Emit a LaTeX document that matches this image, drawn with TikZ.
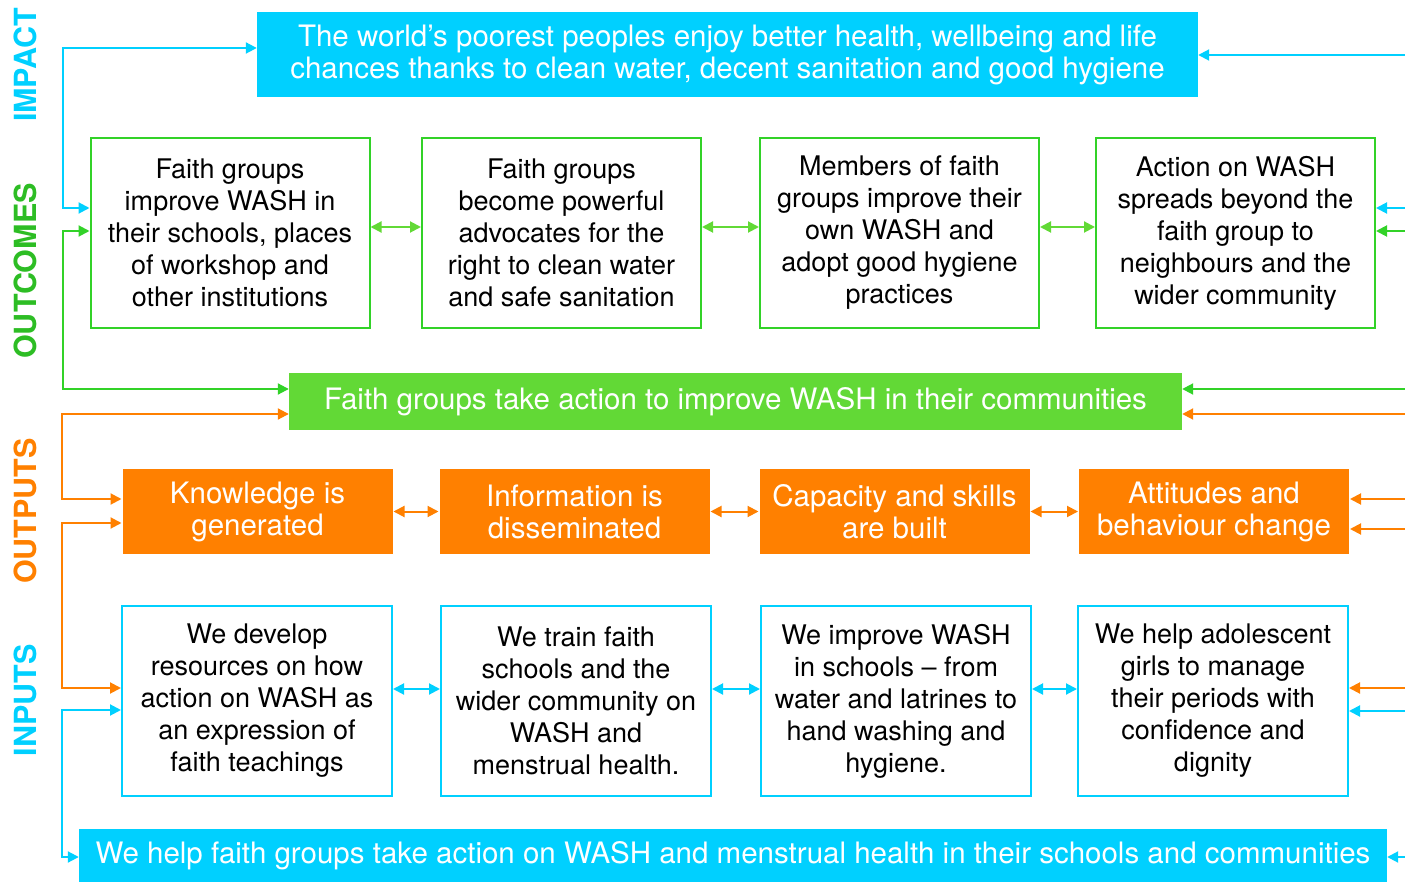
\documentclass[tikz,border=0pt]{standalone}
\usepackage{fontspec}
\setmainfont{TeX Gyre Heros}
\usetikzlibrary{arrows.meta,calc}
\definecolor{wcyan}{RGB}{0,208,255}
\definecolor{wgreen}{RGB}{50,210,40}
\definecolor{wlgreen}{RGB}{98,217,54}
\definecolor{worange}{RGB}{255,128,0}
\begin{document}
\begin{tikzpicture}[x=1pt,y=-1pt,
    >={Triangle[length=11pt,width=11pt]},
    box/.style = {draw, line width=2pt, align=center, inner sep=0pt,
                  font=\fontsize{27}{32}\selectfont},
    outc/.style = {box, draw=wgreen, minimum width=279, minimum height=190},
    inp/.style = {box, draw=wcyan, minimum width=270, minimum height=190},
    outp/.style = {box, draw=none, fill=worange, text=white, minimum width=270, minimum height=85,
                   font=\fontsize{29.5}{32}\selectfont},
    band/.style = {align=center, inner sep=0pt, text=white, font=\fontsize{29.5}{32}\selectfont},
    side/.style = {rotate=90, font=\fontsize{30.5}{30}\selectfont\bfseries},
    link/.style = {line width=2pt, <->}]
        \useasboundingbox (0,0) rectangle (1405,882);
        % levels
        \node[side, text=wcyan] (limp) at (25,65) {IMPACT};
        \node[side, text=wgreen!90!black] (lout) at (25,271) {OUTCOMES};
        \node[side, text=worange] (lput) at (25,511) {OUTPUTS};
        \node[side, text=wcyan] (linp) at (25,700) {INPUTS};
        % impact
        \node[band, fill=wcyan, minimum width=941, minimum height=85] (imp) at (727.5,54.5)
            {The world’s poorest peoples enjoy better health, wellbeing and life\\chances thanks to clean water, decent sanitation and good hygiene};
        % outcomes
        \node[outc] (o1) at (230,233) {Faith groups\\improve WASH in\\their schools, places\\of workshop and\\other institutions};
        \node[outc] (o2) at (561.5,233) {Faith groups\\become powerful\\advocates for the\\right to clean water\\and safe sanitation};
        \node[outc] (o3) at (899.5,233) {Members of faith\\groups improve their\\own WASH and\\adopt good hygiene\\practices};
        \node[outc] (o4) at (1235.5,233) {Action on WASH\\spreads beyond the\\faith group to\\neighbours and the\\wider community};
        \node[band, fill=wlgreen, minimum width=893, minimum height=57] (act) at (735.5,401.5)
            {Faith groups take action to improve WASH in their communities};
        % outputs
        \node[outp] (k1) at (257.5,511.5) {Knowledge is\\generated};
        \node[outp] (k2) at (574.5,511.5) {Information is\\disseminated};
        \node[outp] (k3) at (894.5,511.5) {Capacity and skills\\are built};
        \node[outp] (k4) at (1214,511.5) {Attitudes and\\behaviour change};
        % inputs
        \node[inp] (i1) at (257,701) {We develop\\resources on how\\action on WASH as\\an expression of\\faith teachings};
        \node[inp] (i2) at (576,701) {We train faith\\schools and the\\wider community on\\WASH and\\menstrual health.};
        \node[inp] (i3) at (896,701) {We improve WASH\\in schools – from\\water and latrines to\\hand washing and\\hygiene.};
        \node[inp] (i4) at (1213,701) {We help adolescent\\girls to manage\\their periods with\\confidence and\\dignity};
        \node[band, fill=wcyan, minimum width=1308, minimum height=53] (help) at (733,855.5)
            {We help faith groups take action on WASH and menstrual health in their schools and communities};
        % links in a row
        \draw[link, wlgreen] ($(o1.east)+(0,-6)$) -- ($(o2.west)+(0,-6)$);
        \draw[link, wlgreen] ($(o2.east)+(0,-6)$) -- ($(o3.west)+(0,-6)$);
        \draw[link, wlgreen] ($(o3.east)+(0,-6)$) -- ($(o4.west)+(0,-6)$);
        \draw[link, worange] (k1) -- (k2);
        \draw[link, worange] (k2) -- (k3);
        \draw[link, worange] (k3) -- (k4);
        \draw[link, wcyan] ($(i1.east)+(0,-12)$) -- ($(i2.west)+(0,-12)$);
        \draw[link, wcyan] ($(i2.east)+(0,-12)$) -- ($(i3.west)+(0,-12)$);
        \draw[link, wcyan] ($(i3.east)+(0,-12)$) -- ($(i4.west)+(0,-12)$);
        % left side
        \draw[link, wcyan] ($(o1.west)+(0,-25)$) -- ++(-27,0) |- ($(imp.west)+(0,-6.5)$);
        \draw[link, wgreen] ($(o1.west)+(0,-2)$) -- ++(-27,0) |- ($(act.west)+(0,-12.5)$);
        \draw[link, worange] ($(k1.west)+(0,-12.5)$) -- ++(-60,0) |- ($(act.west)+(0,12.5)$);
        \draw[link, worange] ($(k1.west)+(0,11.5)$) -- ++(-60,0) |- ($(i1.west)+(0,-13)$);
        \draw[link, wcyan] ($(i1.west)+(0,9)$) -- ++(-59,0) |- ($(help.west)+(0,1.5)$);
        % right side
        \draw[line width=2pt, wcyan, <-] ($(imp.east)+(0,0.5)$) -- ++(212,0);
        \draw[line width=2pt, wcyan, <-] ($(o4.east)+(0,-25)$) -- ++(35,0);
        \draw[line width=2pt, wgreen, <-] ($(o4.east)+(0,-2)$) -- ++(35,0);
        \draw[line width=2pt, wgreen, <-] ($(act.east)+(0,-12.5)$) -- ++(228,0);
        \draw[line width=2pt, worange, <-] ($(act.east)+(0,12.5)$) -- ++(228,0);
        \draw[line width=2pt, worange, <-] ($(k4.east)+(0,-12.5)$) -- ++(61,0);
        \draw[line width=2pt, worange, <-] ($(k4.east)+(0,17.5)$) -- ++(61,0);
        \draw[line width=2pt, worange, <-] ($(i4.east)+(0,-13)$) -- ++(62,0);
        \draw[line width=2pt, wcyan, <-] ($(i4.east)+(0,10)$) -- ++(62,0);
        \draw[line width=2pt, wcyan, <-] ($(help.east)+(0,1.5)$) -- ++(23,0);
        \end{tikzpicture}
\end{document}
